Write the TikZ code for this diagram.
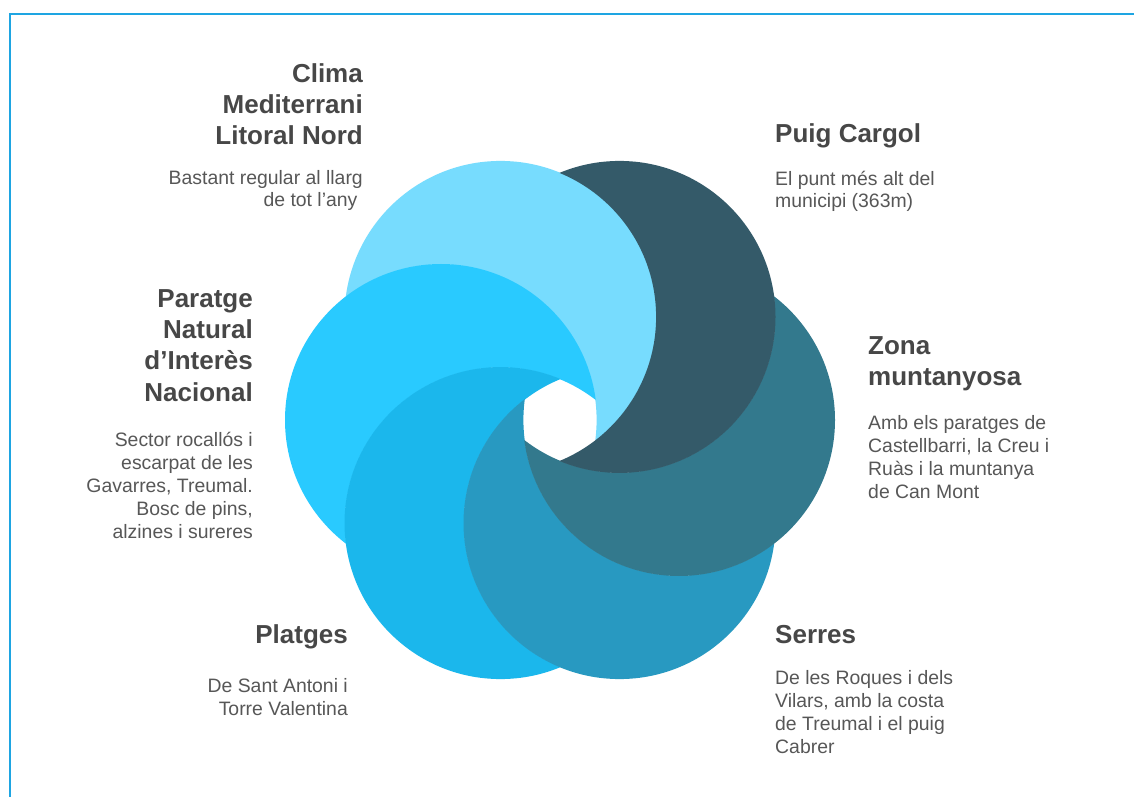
\documentclass[tikz,border=0pt]{standalone}
\usepackage{fontspec}
\setmainfont{Liberation Sans}
\usetikzlibrary{calc}

\definecolor{clima}{HTML}{77DCFE}
\definecolor{paratge}{HTML}{29CAFF}
\definecolor{platges}{HTML}{1BB7EC}
\definecolor{serres}{HTML}{2899C1}
\definecolor{zona}{HTML}{33798D}
\definecolor{puig}{HTML}{345A69}
\definecolor{headgray}{HTML}{474747}
\definecolor{bodygray}{HTML}{575757}
\definecolor{frameblue}{HTML}{1EA5E2}

\tikzset{
  headtext/.style={inner sep=0pt, text=headgray, font=\fontsize{26}{31.3}\selectfont\bfseries},
  bodytext/.style={inner sep=0pt, text=bodygray, font=\fontsize{19.4}{22.8}\selectfont},
}

\begin{document}
\begin{tikzpicture}[x=1pt, y=1pt]
            \useasboundingbox (0,0) rectangle (1134,796);
            \fill[white] (0,0) rectangle (1134,796);
            \draw[frameblue, line width=2pt] (10,-10) -- (10,782) -- (1144,782);

            \coordinate (O) at (560,376);
            \coordinate (PA) at ($(O)+(120:119)$);
            \coordinate (PB) at ($(O)+(180:119)$);
            \coordinate (PC) at ($(O)+(240:119)$);
            \coordinate (PD) at ($(O)+(300:119)$);
            \coordinate (PE) at ($(O)+(0:119)$);
            \coordinate (PF) at ($(O)+(60:119)$);

            \begin{scope}
                \clip (PA) circle (156);
                \fill[clima, even odd rule] (0,0) rectangle (1134,796) (PB) circle (155.6);
            \end{scope}
            \begin{scope}
                \clip (PB) circle (156);
                \fill[paratge, even odd rule] (0,0) rectangle (1134,796) (PC) circle (155.6);
            \end{scope}
            \begin{scope}
                \clip (PC) circle (156);
                \fill[platges, even odd rule] (0,0) rectangle (1134,796) (PD) circle (155.6);
            \end{scope}
            \begin{scope}
                \clip (PD) circle (156);
                \fill[serres, even odd rule] (0,0) rectangle (1134,796) (PE) circle (155.6);
            \end{scope}
            \begin{scope}
                \clip (PE) circle (156);
                \fill[zona, even odd rule] (0,0) rectangle (1134,796) (PF) circle (155.6);
            \end{scope}
            \begin{scope}
                \clip (PF) circle (156);
                \fill[puig, even odd rule] (0,0) rectangle (1134,796) (PA) circle (155.6);
            \end{scope}

            \node[headtext, align=right, anchor=base east] (TA) at (363,651) {Clima\\Mediterrani\\Litoral Nord};
            \node[bodytext, align=right, anchor=base east] (BA) at (363,589) {Bastant regular al llarg\\de tot l’any\hspace*{5.4pt}};

            \node[headtext, align=left, anchor=base west] (TF) at (775,653) {Puig Cargol};
            \node[bodytext, align=left, anchor=base west] (BF) at (775,588) {El punt més alt del\\municipi (363m)};

            \node[headtext, align=left, anchor=base west] (TE) at (868,410) {Zona\\muntanyosa};
            \node[bodytext, align=left, anchor=base west] (BE) at (868,298) {Amb els paratges de\\Castellbarri, la Creu i\\Ruàs i la muntanya\\de Can Mont};

            \node[headtext, align=right, anchor=base east] (TB) at (253,395) {Paratge\\Natural\\d’Interès\\Nacional};
            \node[bodytext, align=right, anchor=base east] (BB) at (253,258) {Sector rocallós i\\escarpat de les\\Gavarres, Treumal.\\Bosc de pins,\\alzines i sureres};

            \node[headtext, align=right, anchor=base east] (TC) at (348,153) {Platges};
            \node[bodytext, align=right, anchor=base east] (BC) at (348,81) {De Sant Antoni i\\Torre Valentina};

            \node[headtext, align=left, anchor=base west] (TD) at (775,153) {Serres};
            \node[bodytext, align=left, anchor=base west] (BD) at (775,43) {De les Roques i dels\\Vilars, amb la costa\\de Treumal i el puig\\Cabrer};
        \end{tikzpicture}
\end{document}
